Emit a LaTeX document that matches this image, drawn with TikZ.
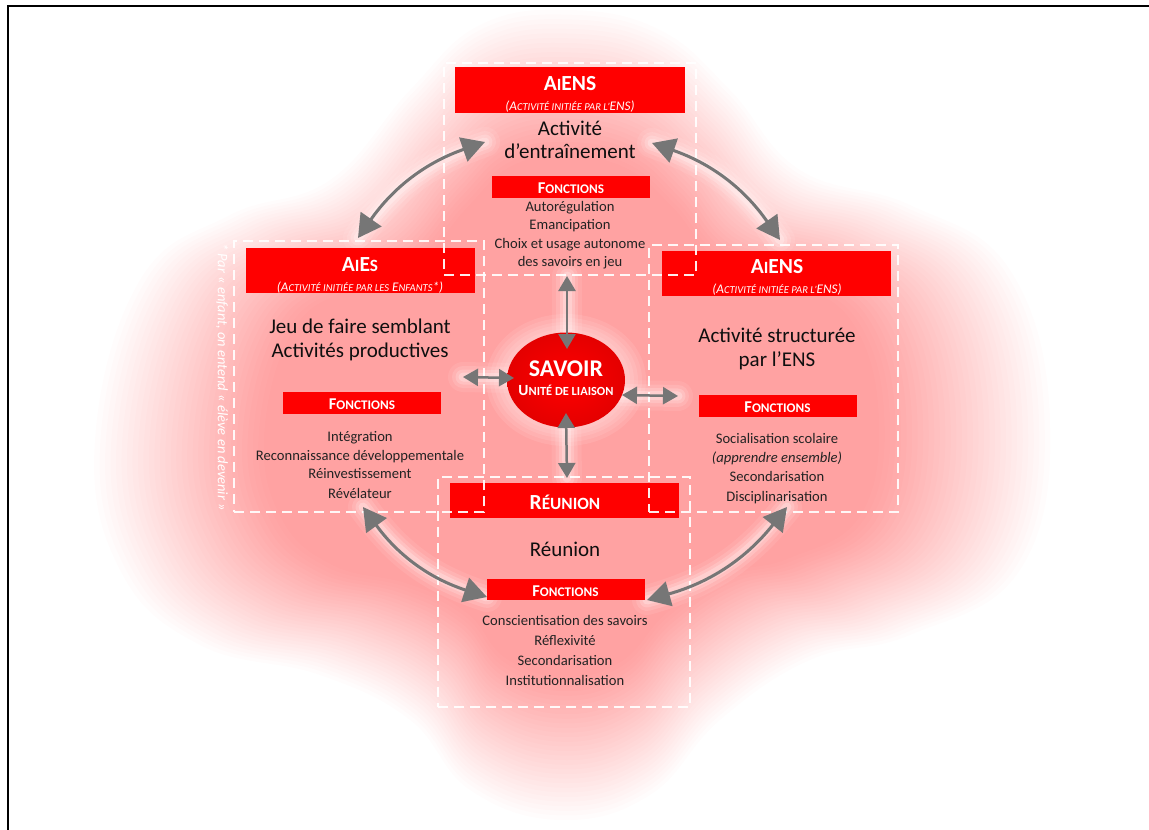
\documentclass[tikz,border=0pt]{standalone}
\usepackage{fontspec}
\setmainfont{Carlito}
\usetikzlibrary{arrows.meta,shapes.geometric}
\definecolor{glowred}{RGB}{255,0,0}
\definecolor{arrowgray}{RGB}{118,118,118}
\definecolor{ink}{RGB}{15,15,15}
\definecolor{inkitem}{RGB}{35,35,35}
\newcommand\smk[1]{\scalebox{0.8}{#1}}
\newcommand\fsz[1]{\fontsize{#1}{#1}\selectfont}
\tikzset{
  box/.style={draw=white, draw opacity=0.92, line width=1.8pt, dash pattern=on 10pt off 6pt, inner sep=0pt},
  hdr/.style={fill=red, inner sep=0pt},
  fbar/.style={fill=red, inner sep=0pt, minimum width=158pt, minimum height=22pt},
  hdrtxt/.style={text=white, font=\bfseries\fsz{21.5}, anchor=base, inner sep=0pt},
  subtxt/.style={text=white, font=\itshape\fsz{13.2}, anchor=base, inner sep=0pt},
  titletxt/.style={text=ink, font=\fsz{21}, anchor=base, inner sep=0pt},
  ftxt/.style={text=white, font=\bfseries\fsz{16.5}, anchor=base, inner sep=0pt},
  itemtxt/.style={text=inkitem, font=\fsz{14.6}, anchor=base, inner sep=0pt},
  garc/.style={draw=arrowgray, line width=3pt, {Triangle[length=23pt,width=25pt]}-{Triangle[length=23pt,width=25pt]}},
  sarr/.style={draw=arrowgray, line width=2.5pt, {Triangle[length=15pt,width=17pt]}-{Triangle[length=15pt,width=17pt]}},
  halo/.style={draw=white, line cap=round}
}
\begin{document}
\begin{tikzpicture}[x=1pt,y=-1pt]
\useasboundingbox (0,0) rectangle (1149,830);
\fill[white] (0,0) rectangle (1149,830);

% soft red glow behind the whole scheme
\begin{scope}[shift={(570,420)}]
\foreach \i in {0,...,31}{
  \pgfmathsetmacro\s{1-0.0115*\i}
  \fill[glowred, fill opacity=0.0135, scale=\s] plot[smooth cycle, tension=0.7] coordinates {
    (0,-410) (90,-390) (160,-330) (230,-250) (340,-215) (440,-150) (480,0) (450,150)
    (340,215) (240,240) (150,300) (80,375) (-10,400) (-100,370) (-160,300) (-250,255)
    (-370,225) (-450,150) (-475,20) (-430,-140) (-340,-205) (-240,-240) (-160,-330) (-90,-395)};
}
\end{scope}

% frame
\draw[line width=1.6pt] (8,830) -- (8,6) -- (1149,6);

% arrow end points
\coordinate (tl1) at (485,142); \coordinate (tl2) at (358,238);
\coordinate (tr1) at (652,143); \coordinate (tr2) at (780,240);
\coordinate (br1) at (787,507); \coordinate (br2) at (647,600);
\coordinate (bl1) at (363,507); \coordinate (bl2) at (487,597);
\coordinate (up1) at (567,276); \coordinate (up2) at (567,349);
\coordinate (dn1) at (566,413); \coordinate (dn2) at (567,478);
\coordinate (lf1) at (463,377); \coordinate (lf2) at (514,378);
\coordinate (rt1) at (622,395); \coordinate (rt2) at (678,396);

% white halos around the connectors
\foreach \w/\o in {30/0.08, 22/0.12, 15/0.18, 9/0.25}{
  \draw[halo, line width=\w pt, draw opacity=\o] (tl1) to[bend left=-18] (tl2);
  \draw[halo, line width=\w pt, draw opacity=\o] (tr1) to[bend left=18] (tr2);
  \draw[halo, line width=\w pt, draw opacity=\o] (br1) to[bend left=18] (br2);
  \draw[halo, line width=\w pt, draw opacity=\o] (bl1) to[bend left=-18] (bl2);
  \draw[halo, line width=\w pt, draw opacity=\o] (up1) -- (up2);
  \draw[halo, line width=\w pt, draw opacity=\o] (dn1) -- (dn2);
  \draw[halo, line width=\w pt, draw opacity=\o] (lf1) -- (lf2);
  \draw[halo, line width=\w pt, draw opacity=\o] (rt1) -- (rt2);
}
\foreach \rx/\ry in {80/66, 76/62, 72/58, 68/55, 64/51}{
  \fill[white, fill opacity=0.09] (566,380) ellipse [x radius=\rx, y radius=\ry];
}

% red headers
\node[hdr, minimum width=230pt, minimum height=46pt] (hT) at (570,90) {};
\node[hdr, minimum width=229pt, minimum height=45pt] (hL) at (360.5,270.5) {};
\node[hdr, minimum width=229pt, minimum height=45pt] (hR) at (776.5,273.5) {};
\node[hdr, minimum width=229pt, minimum height=35pt] (hB) at (564.5,500.5) {};
% "Fonctions" bars
\node[fbar] (fT) at (571,187) {};
\node[fbar] (fL) at (362,403) {};
\node[fbar] (fR) at (777.5,406) {};
\node[fbar, minimum height=21pt] (fB) at (565.5,589.5) {};

% dashed frames of the four activities
\node[box, minimum width=252pt, minimum height=212pt] (bT) at (570,169) {};
\node[box, minimum width=250pt, minimum height=271pt] (bL) at (359,376.5) {};
\node[box, minimum width=249pt, minimum height=267pt] (bR) at (773.5,378.5) {};
\node[box, minimum width=252pt, minimum height=230pt] (bB) at (564,592) {};

% top activity
\node[hdrtxt] (tT1) at (570,90.5) {A\smk{I}ENS};
\node[subtxt] (tT2) at (570,110) {(A\smk{CTIVITÉ INITIÉE PAR L’}ENS)};
\node[titletxt] (tT3) at (570,135) {Activité};
\node[titletxt] (tT4) at (570,158) {d’entraînement};
\node[ftxt] (tT5) at (571,193.5) {F\smk{ONCTIONS}};
\node[itemtxt] (tT6) at (570,211) {Autorégulation};
\node[itemtxt] (tT7) at (570,229) {Emancipation};
\node[itemtxt] (tT8) at (570,248) {Choix et usage autonome};
\node[itemtxt] (tT9) at (570,266) {des savoirs en jeu};

% left activity
\node[hdrtxt] (tL1) at (360,271.5) {A\smk{I}E\smk{S}};
\node[subtxt] (tL2) at (360,291) {(A\smk{CTIVITÉ INITIÉE PAR LES} E\smk{NFANTS}*)};
\node[titletxt] (tL3) at (360,333) {Jeu de faire semblant};
\node[titletxt] (tL4) at (360,357) {Activités productives};
\node[ftxt] (tL5) at (362,409.5) {F\smk{ONCTIONS}};
\node[itemtxt] (tL6) at (360,441) {Intégration};
\node[itemtxt] (tL7) at (360,460) {Reconnaissance développementale};
\node[itemtxt] (tL8) at (360,478) {Réinvestissement};
\node[itemtxt] (tL9) at (360,498) {Révélateur};
\node[rotate=-90, text=white, font=\itshape\fsz{14.5}, inner sep=0pt] (note) at (222,377)
  {* Par « enfant, on entend « élève en devenir »};

% right activity
\node[hdrtxt] (tR1) at (777,273.5) {A\smk{I}ENS};
\node[subtxt] (tR2) at (777,293) {(A\smk{CTIVITÉ INITIÉE PAR L’}ENS)};
\node[titletxt] (tR3) at (777,342) {Activité structurée};
\node[titletxt] (tR4) at (777,366) {par l’ENS};
\node[ftxt] (tR5) at (777.5,412.5) {F\smk{ONCTIONS}};
\node[itemtxt] (tR6) at (777,443) {Socialisation scolaire};
\node[itemtxt, font=\itshape\fsz{14.6}] (tR7) at (777,462) {(apprendre ensemble)};
\node[itemtxt] (tR8) at (777,481) {Secondarisation};
\node[itemtxt] (tR9) at (777,501) {Disciplinarisation};

% bottom activity
\node[hdrtxt] (tB1) at (565,509) {R\smk{ÉUNION}};
\node[titletxt] (tB3) at (565,556) {Réunion};
\node[ftxt] (tB5) at (565.5,596) {F\smk{ONCTIONS}};
\node[itemtxt] (tB6) at (565,625) {Conscientisation des savoirs};
\node[itemtxt] (tB7) at (565,645) {Réflexivité};
\node[itemtxt] (tB8) at (565,665) {Secondarisation};
\node[itemtxt] (tB9) at (565,685) {Institutionnalisation};

% central knowledge node
\node[ellipse, minimum width=118pt, minimum height=95pt, inner sep=0pt,
      inner color=red, outer color={rgb,255:red,228;green,0;blue,0}] (savoir) at (566,380) {};
\node[text=white, font=\bfseries\fsz{24}, anchor=base, inner sep=0pt] (sv1) at (566,376) {SAVOIR};
\node[text=white, font=\bfseries\fsz{15.5}, anchor=base, inner sep=0pt] (sv2) at (566,395) {U\smk{NITÉ DE LIAISON}};

% connectors
\draw[garc] (tl1) to[bend left=-18] (tl2);
\draw[garc] (tr1) to[bend left=18] (tr2);
\draw[garc] (br1) to[bend left=18] (br2);
\draw[garc] (bl1) to[bend left=-18] (bl2);
\draw[sarr] (up1) -- (up2);
\draw[sarr] (dn1) -- (dn2);
\draw[sarr] (lf1) -- (lf2);
\draw[sarr] (rt1) -- (rt2);
\end{tikzpicture}
\end{document}
